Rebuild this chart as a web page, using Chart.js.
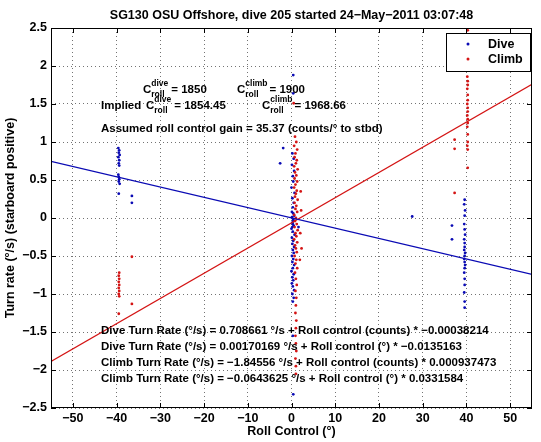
<!DOCTYPE html>
<html lang="en">
<head>
<meta charset="UTF-8">
<title>SG130 turn rate vs roll control</title>
<script src="https://cdn.jsdelivr.net/npm/chart.js"></script>
<style>
  html, body { margin: 0; padding: 0; background: #fff; }
  #wrap { width: 541px; height: 442px; position: relative; }
</style>
</head>
<body>
<div id="wrap"><canvas id="chart"></canvas></div>
<script>
const chartTitle = 'SG130 OSU Offshore, dive 205 started 24\u2212May\u22122011 03:07:48';
const xTitle = 'Roll Control (\u00b0)';
const yTitle = 'Turn rate (\u00b0/s) (starboard positive)';
const xTicks = [-50, -40, -30, -20, -10, 0, 10, 20, 30, 40, 50];
const yTicks = [-2.5, -2, -1.5, -1, -0.5, 0, 0.5, 1, 1.5, 2, 2.5];
const seriesNames = ['Dive', 'Climb'];

// dive samples [roll control deg, turn rate deg/s]
const divePoints = [
  [-39.6, 0.92], [-39.4, 0.89], [-39.5, 0.86], [-39.3, 0.83], [-39.6, 0.80], [-39.4, 0.76],
  [-39.5, 0.72], [-39.4, 0.69], [-39.6, 0.57], [-39.5, 0.54], [-39.4, 0.51], [-39.5, 0.48],
  [-39.3, 0.45], [-39.5, 0.32], [-36.5, 0.29], [-36.5, 0.20],
  [0.4, 1.88], [0.4, 1.64], [-1.9, 0.92], [-2.6, 0.72], [1.6, -0.12],
  [0.2, 0.85], [0.5, 0.78], [0.1, 0.70], [0.6, 0.62], [0.3, 0.55], [0.4, 0.48], [0.0, 0.40],
  [0.7, 0.33], [0.2, 0.26], [0.5, 0.20], [0.3, 0.14], [0.1, 0.08], [0.6, 0.03], [0.4, -0.02],
  [0.2, -0.06], [0.5, -0.10], [0.0, -0.14], [0.3, -0.18], [0.7, -0.22], [0.1, -0.26],
  [0.4, -0.30], [0.2, -0.34], [0.6, -0.38], [0.3, -0.42], [0.5, -0.46], [0.1, -0.50],
  [0.4, -0.54], [0.2, -0.58], [0.6, -0.62], [0.3, -0.66], [0.0, -0.70], [0.5, -0.74],
  [0.2, -0.78], [0.4, -0.82], [0.1, -0.86], [0.3, -0.90], [0.6, -0.95], [0.2, -1.00],
  [0.5, -1.05], [0.3, -1.10], [0.4, -0.04], [0.1, 0.01], [0.3, -0.08], [0.2, -0.12],
  [0.4, 0.06], [0.3, -1.55], [0.4, -2.32],
  [27.6, 0.02],
  [39.6, 0.24], [39.5, 0.18], [39.7, 0.10], [39.6, 0.03], [39.5, -0.08], [39.6, -0.15],
  [39.7, -0.22], [39.5, -0.28], [39.6, -0.33], [39.6, -0.38], [39.5, -0.42], [39.7, -0.46],
  [39.6, -0.50], [39.5, -0.54], [39.6, -0.58], [39.7, -0.62], [39.6, -0.66], [39.5, -0.72],
  [39.6, -0.80], [39.6, -0.88], [39.5, -0.98], [39.6, -1.10], [39.6, -1.18],
  [36.7, -0.10], [36.7, -0.28]
];

// climb samples [roll control deg, turn rate deg/s]
const climbPoints = [
  [-39.4, -0.72], [-39.5, -0.76], [-39.4, -0.80], [-39.5, -0.84], [-39.4, -0.88], [-39.5, -0.92],
  [-39.4, -0.96], [-39.5, -1.00], [-39.4, -1.03], [-39.5, -1.26],
  [-36.5, -0.51], [-36.5, -1.13],
  [0.5, 1.51], [0.8, 1.07], [1.1, 1.00], [0.6, 0.95], [1.3, 0.90], [0.9, 0.85], [0.7, 0.80],
  [1.2, 0.76], [1.0, 0.72], [0.6, 0.68], [1.4, 0.64], [0.8, 0.60], [1.1, 0.56], [0.7, 0.52],
  [1.3, 0.48], [0.9, 0.44], [0.6, 0.40], [1.2, 0.36], [1.0, 0.32], [0.8, 0.28], [1.4, 0.24],
  [0.7, 0.20], [1.1, 0.16], [0.9, 0.12], [1.3, 0.08], [0.6, 0.04], [1.0, 0.00], [0.8, -0.04],
  [1.2, -0.08], [0.7, -0.12], [1.4, -0.16], [0.9, -0.20], [1.1, -0.24], [0.6, -0.28],
  [1.3, -0.32], [0.8, -0.36], [1.0, -0.40], [1.2, -0.45], [0.7, -0.50], [1.1, -0.55],
  [0.9, -0.60], [1.3, -0.66], [0.8, -0.72], [1.0, -0.80], [1.2, -0.88], [0.9, -0.96],
  [1.1, -1.05], [1.0, -1.15], [0.9, -1.25], [1.1, -1.35], [1.0, -1.45], [0.9, -1.55],
  [1.0, -1.65], [1.1, -1.75], [0.9, -1.85], [1.0, -1.95], [1.0, -2.05],
  [2.2, 0.10], [2.0, -0.20], [2.3, -0.40], [2.1, 0.35], [1.9, -0.55],
  [40.3, 2.47], [40.3, 2.38], [40.2, 2.20], [40.3, 2.10], [40.3, 1.95], [40.2, 1.86],
  [40.3, 1.80], [40.3, 1.75], [40.2, 1.70], [40.3, 1.62], [40.3, 1.55], [40.2, 1.50],
  [40.3, 1.45], [40.3, 1.40], [40.2, 1.35], [40.3, 1.30], [40.3, 1.25], [40.2, 1.20],
  [40.3, 1.10], [40.3, 1.00], [40.2, 0.95], [40.3, 0.90], [40.3, 0.66],
  [37.3, 1.03], [37.3, 0.91], [37.3, 0.33]
];

// fitted lines, end points at the axis limits
const fitX = [-55, 55];
const diveFitY = [0.745, -0.742];
const climbFitY = [-1.888, 1.759];

const topNotes = [
  'Assumed roll control gain = 35.37 (counts/\u00b0 to stbd)'
];
const bottomNotes = [
  'Dive Turn Rate (\u00b0/s) = 0.708661 \u00b0/s + Roll control (counts) * \u22120.00038214',
  'Dive Turn Rate (\u00b0/s) = 0.00170169 \u00b0/s + Roll control (\u00b0) * \u22120.0135163',
  'Climb Turn Rate (\u00b0/s) = \u22121.84556 \u00b0/s + Roll control (counts) * 0.000937473',
  'Climb Turn Rate (\u00b0/s) = \u22120.0643625 \u00b0/s + Roll control (\u00b0) * 0.0331584'
];

const diveColor = '#0a0ab4';
const climbColor = '#d41414';
const fontFamily = '"Liberation Sans", Arial, Helvetica, sans-serif';
const bold = size => 'bold ' + size + 'px ' + fontFamily;
const fmt = v => (v < 0 ? '\u2212' + Math.abs(v) : String(v));
const toXY = arr => arr.map(p => ({ x: p[0], y: p[1] }));

// C with "roll" below and a label above, returns the x after it
function drawC(ctx, x, y, sup) {
  ctx.font = bold(11.5);
  ctx.fillText('C', x, y);
  const w = ctx.measureText('C').width;
  ctx.font = bold(8.5);
  ctx.fillText(sup, x + w, y - 7);
  ctx.fillText('roll', x + w, y + 4);
  return x + w + Math.max(ctx.measureText(sup).width, ctx.measureText('roll').width);
}

const decorPlugin = {
  id: 'decor',
  afterDatasetsDraw(chart) {
    const { ctx, chartArea: a } = chart;
    const xs = chart.scales.x, ys = chart.scales.y;
    ctx.save();

    // box and inward tick marks
    ctx.strokeStyle = '#000';
    ctx.lineWidth = 1;
    ctx.setLineDash([]);
    ctx.strokeRect(a.left + 0.5, a.top + 0.5, a.right - a.left - 1, a.bottom - a.top - 1);
    ctx.beginPath();
    xTicks.forEach(v => {
      const p = Math.round(xs.getPixelForValue(v)) + 0.5;
      ctx.moveTo(p, a.bottom); ctx.lineTo(p, a.bottom - 5);
      ctx.moveTo(p, a.top); ctx.lineTo(p, a.top + 5);
    });
    yTicks.forEach(v => {
      const p = Math.round(ys.getPixelForValue(v)) + 0.5;
      ctx.moveTo(a.left, p); ctx.lineTo(a.left + 5, p);
      ctx.moveTo(a.right, p); ctx.lineTo(a.right - 5, p);
    });
    ctx.stroke();

    // title
    ctx.fillStyle = '#000';
    ctx.textBaseline = 'alphabetic';
    ctx.textAlign = 'center';
    ctx.font = bold(12.5);
    ctx.fillText(chartTitle, (a.left + a.right) / 2, 19);

    // upper notes
    ctx.textAlign = 'left';
    let x = drawC(ctx, 143, 93, 'dive');
    ctx.font = bold(11.5);
    ctx.fillText('= 1850', x + 3, 93);
    x = drawC(ctx, 237, 93, 'climb');
    ctx.font = bold(11.5);
    ctx.fillText('= 1900', x + 2, 93);

    ctx.fillText('Implied', 101, 109);
    x = drawC(ctx, 146, 109, 'dive');
    ctx.font = bold(11.5);
    ctx.fillText('= 1854.45', x + 3, 109);
    x = drawC(ctx, 262, 109, 'climb');
    ctx.font = bold(11.5);
    ctx.fillText('= 1968.66', x + 2, 109);

    topNotes.forEach((t, i) => ctx.fillText(t, 101, 132 + i * 16));

    // lower notes
    bottomNotes.forEach((t, i) => ctx.fillText(t, 101, 334 + i * 16));

    // legend
    const lx = 446, ly = 33, lw = 84, lh = 38;
    ctx.fillStyle = '#fff';
    ctx.fillRect(lx, ly, lw, lh);
    ctx.strokeStyle = '#000';
    ctx.strokeRect(lx + 0.5, ly + 0.5, lw, lh);
    const colors = [diveColor, climbColor];
    seriesNames.forEach((name, i) => {
      const cy = ly + 11 + i * 15;
      ctx.fillStyle = colors[i];
      ctx.beginPath();
      ctx.arc(lx + 22, cy, 1.5, 0, Math.PI * 2);
      ctx.fill();
      ctx.fillStyle = '#000';
      ctx.font = bold(12.5);
      ctx.textBaseline = 'middle';
      ctx.fillText(name, lx + 42, cy + 1);
    });
    ctx.restore();
  }
};

const ctx = document.getElementById('chart').getContext('2d');
new Chart(ctx, {
  type: 'scatter',
  data: {
    datasets: [
      {
        type: 'line', label: 'dive fit', order: 0,
        data: fitX.map((v, i) => ({ x: v, y: diveFitY[i] })),
        borderColor: diveColor, borderWidth: 1.2, pointRadius: 0, fill: false
      },
      {
        type: 'line', label: 'climb fit', order: 0,
        data: fitX.map((v, i) => ({ x: v, y: climbFitY[i] })),
        borderColor: climbColor, borderWidth: 1.2, pointRadius: 0, fill: false
      },
      {
        label: seriesNames[1], order: 1, data: toXY(climbPoints),
        backgroundColor: climbColor, borderWidth: 0, pointRadius: 1.4
      },
      {
        label: seriesNames[0], order: 2, data: toXY(divePoints),
        backgroundColor: diveColor, borderWidth: 0, pointRadius: 1.4
      }
    ]
  },
  options: {
    responsive: true,
    maintainAspectRatio: false,
    devicePixelRatio: 1,
    animation: false,
    layout: { padding: { top: 28, right: 9, left: 0, bottom: 0 } },
    plugins: {
      legend: { display: false },
      title: { display: false },
      tooltip: { enabled: false }
    },
    scales: {
      x: {
        type: 'linear', min: -55, max: 55,
        afterBuildTicks: s => { s.ticks = xTicks.map(v => ({ value: v })); },
        afterFit: s => { s.height = 34; },
        ticks: { color: '#000', font: { family: fontFamily, size: 12.5, weight: 'bold' }, padding: 3, maxRotation: 0, callback: fmt },
        grid: { color: 'rgba(0,0,0,0.55)', lineWidth: 1, drawTicks: false },
        border: { display: false, dash: [1, 3] },
        title: { display: true, text: xTitle, color: '#000', font: { family: fontFamily, size: 12.5, weight: 'bold' }, padding: { top: 0, bottom: 3 } }
      },
      y: {
        type: 'linear', min: -2.5, max: 2.5,
        afterBuildTicks: s => { s.ticks = yTicks.map(v => ({ value: v })); },
        afterFit: s => { s.width = 51; },
        ticks: { color: '#000', font: { family: fontFamily, size: 12.5, weight: 'bold' }, padding: 4, callback: fmt },
        grid: { color: 'rgba(0,0,0,0.55)', lineWidth: 1, drawTicks: false },
        border: { display: false, dash: [1, 3] },
        title: { display: true, text: yTitle, color: '#000', font: { family: fontFamily, size: 12.5, weight: 'bold' }, padding: { top: 3, bottom: 0 } }
      }
    }
  },
  plugins: [decorPlugin]
});
</script>
</body>
</html>
